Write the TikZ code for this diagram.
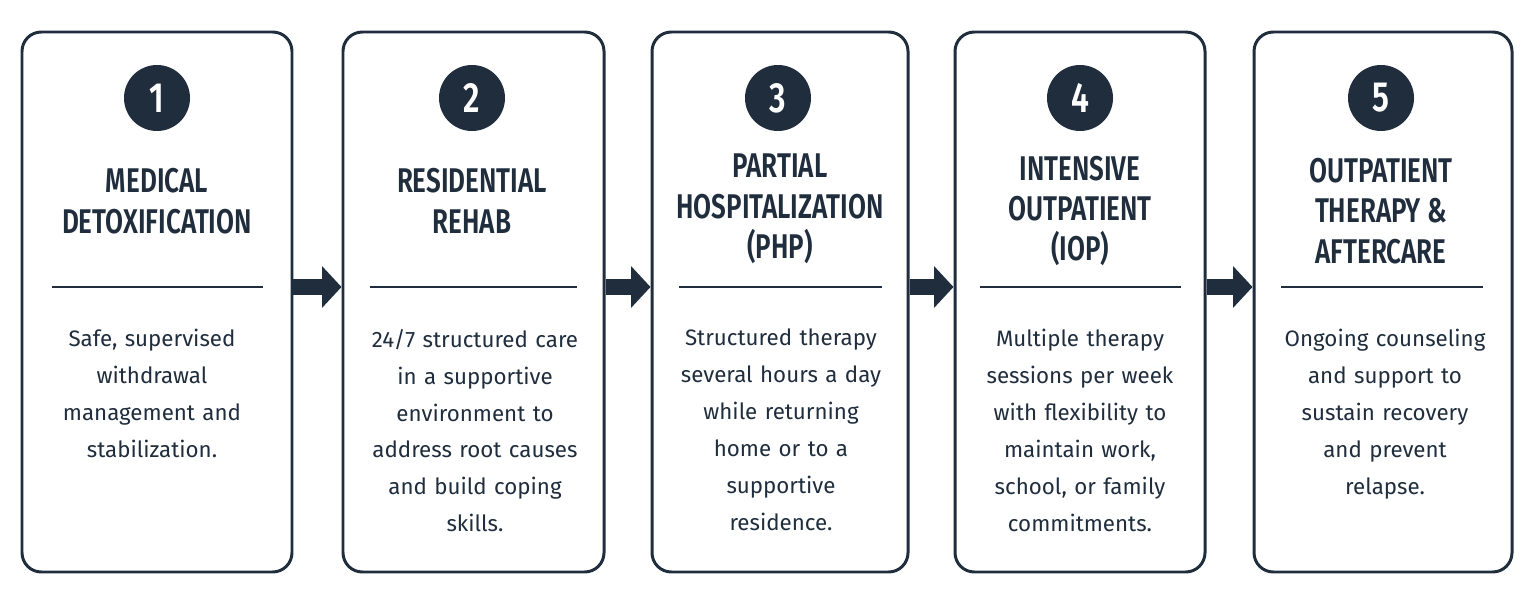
\documentclass[tikz,border=0pt]{standalone}
\usepackage{fontspec}
\setmainfont{Fira Sans}
\newfontfamily\headfont[FakeStretch=0.76]{Fira Sans SemiBold}
\usetikzlibrary{arrows.meta}
\definecolor{navy}{HTML}{1F2D3D}
\begin{document}
\begin{tikzpicture}[x=0.2mm, y=-0.2mm,
    stage/.style={draw=navy, line width=1.7pt, rounded corners=11pt, fill=white,
        minimum width=#1*0.2mm, minimum height=540*0.2mm},
    badge/.style={circle, fill=navy, text=white, minimum size=66*0.2mm, inner sep=0pt,
        font=\headfont\fontsize{24}{24}\selectfont},
    title/.style={text=navy, align=center, font=\headfont\fontsize{19.5}{23}\selectfont},
    body/.style={text=navy, align=center, text width=48mm, font=\fontsize{12.7}{21}\selectfont},
    rule/.style={draw=navy, line width=1.1pt},
    flow/.style={draw=navy, line width=9pt, -{Triangle[length=11pt, width=23pt]}}
]
    \useasboundingbox (0,0) rectangle (1535,603);
    % Stages
    \node[stage=270] (b1) at (157,302) {};
    \node[stage=261] (b2) at (473.5,302) {};
    \node[stage=256] (b3) at (780,302) {};
    \node[stage=250] (b4) at (1080,302) {};
    \node[stage=258] (b5) at (1383,302) {};

    % Numbers
    \node[badge] (n1) at (157,98) {1};
    \node[badge] (n2) at (472,98) {2};
    \node[badge] (n3) at (778,98) {3};
    \node[badge] (n4) at (1080,98) {4};
    \node[badge] (n5) at (1381,98) {5};

    % Titles
    \node[title] (t1) at (157,201) {MEDICAL\\DETOXIFICATION};
    \node[title] (t2) at (472,201) {RESIDENTIAL\\REHAB};
    \node[title] (t3) at (780,209) {PARTIAL\\HOSPITALIZATION\\(PHP)};
    \node[title] (t4) at (1080,211) {INTENSIVE\\OUTPATIENT\\(IOP)};
    \node[title] (t5) at (1381,211) {OUTPATIENT\\THERAPY \&\\AFTERCARE};

    % Dividers
    \draw[rule] (52,287) coordinate (d1) -- (263,287);
    \draw[rule] (370,287) coordinate (d2) -- (577,287);
    \draw[rule] (679,287) coordinate (d3) -- (882,287);
    \draw[rule] (980,287) coordinate (d4) -- (1181,287);
    \draw[rule] (1281,287) coordinate (d5) -- (1483,287);

    % Descriptions
    \node[body, anchor=north] (x1) at (152,323) {Safe, supervised\\withdrawal\\management and\\stabilization.};
    \node[body, anchor=north] (x2) at (475,323) {24/7 structured care\\in a supportive\\environment to\\address root causes\\and build coping\\skills.};
    \node[body, anchor=north] (x3) at (781,323) {Structured therapy\\several hours a day\\while returning\\home or to a\\supportive\\residence.};
    \node[body, anchor=north] (x4) at (1080,323) {Multiple therapy\\sessions per week\\with flexibility to\\maintain work,\\school, or family\\commitments.};
    \node[body, anchor=north] (x5) at (1385,323) {Ongoing counseling\\and support to\\sustain recovery\\and prevent\\relapse.};

    % Arrows
    \draw[flow] (b1.east |- d1) -- (b2.west |- d1);
    \draw[flow] (b2.east |- d1) -- (b3.west |- d1);
    \draw[flow] (b3.east |- d1) -- (b4.west |- d1);
    \draw[flow] (b4.east |- d1) -- (b5.west |- d1);
\end{tikzpicture}
\end{document}
